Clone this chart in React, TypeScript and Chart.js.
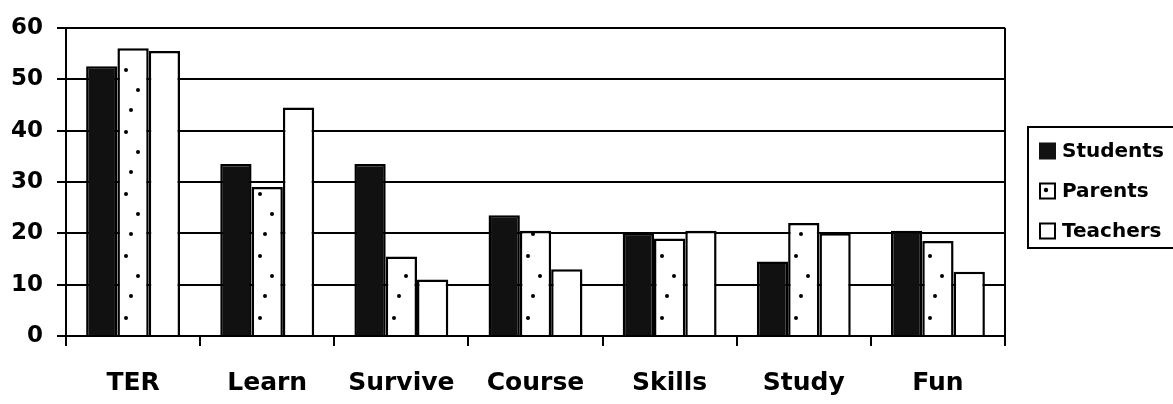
import React, { useEffect, useRef } from "react";
import { Chart, registerables } from "chart.js";

Chart.register(...registerables);

const categories = ["TER", "Learn", "Survive", "Course", "Skills", "Study", "Fun"];
const seriesNames = ["Students", "Parents", "Teachers"];
const students = [52.5, 33.5, 33.5, 23.5, 20, 14.5, 20.5];
const parents = [56, 29, 15.5, 20.5, 19, 22, 18.5];
const teachers = [55.5, 44.5, 11, 13, 20.5, 20, 12.5];
const yMin = 0;
const yMax = 60;
const yStep = 10;

const FONT = "'DejaVu Sans', 'Liberation Sans', Arial, sans-serif";

function makeDotPattern(ctx: CanvasRenderingContext2D): CanvasPattern | string {
  const c = document.createElement("canvas");
  c.width = 134;
  c.height = 62;
  const p = c.getContext("2d");
  if (!p) return "#fff";
  p.fillStyle = "#fff";
  p.fillRect(0, 0, c.width, c.height);
  p.fillStyle = "#000";
  const dotsAt = [
    [126, 8],
    [4, 28],
    [131, 48],
  ];
  dotsAt.forEach(([x, y]) => {
    p.beginPath();
    p.arc(x, y, 2, 0, Math.PI * 2);
    p.fill();
  });
  return ctx.createPattern(c, "repeat") || "#fff";
}

const legendPlugin = {
  id: "boxLegend",
  afterDraw(chart: any) {
    const ctx = chart.ctx as CanvasRenderingContext2D;
    const x0 = 1028;
    const y0 = 127;
    ctx.save();
    ctx.lineWidth = 2;
    ctx.strokeStyle = "#000";
    ctx.fillStyle = "#fff";
    ctx.fillRect(x0, y0, 170, 121);
    ctx.strokeRect(x0, y0, 170, 121);
    const rows = [151, 191, 231];
    chart.data.datasets.forEach((ds: any, i: number) => {
      const cy = rows[i];
      const sx = x0 + 11;
      const sz = 17;
      ctx.lineWidth = 2;
      ctx.strokeStyle = "#000";
      if (i === 0) {
        ctx.fillStyle = "#111";
        ctx.fillRect(sx, cy - sz / 2, sz, sz);
      } else {
        ctx.fillStyle = "#fff";
        ctx.fillRect(sx, cy - sz / 2, sz, sz);
        ctx.strokeRect(sx + 1, cy - sz / 2 + 1, sz - 2, sz - 2);
        if (i === 1) {
          ctx.fillStyle = "#000";
          ctx.beginPath();
          ctx.arc(sx + 7, cy - 1, 2.2, 0, Math.PI * 2);
          ctx.fill();
        }
      }
      ctx.fillStyle = "#000";
      ctx.font = `bold 20px ${FONT}`;
      ctx.textBaseline = "middle";
      ctx.textAlign = "left";
      ctx.fillText(ds.label, x0 + 34, cy + 1);
    });
    ctx.restore();
  },
};

export default function App() {
  const ref = useRef<HTMLCanvasElement | null>(null);

  useEffect(() => {
    const canvas = ref.current;
    if (!canvas) return;
    const ctx = canvas.getContext("2d");
    if (!ctx) return;
    const dots = makeDotPattern(ctx);

    const barStyle = {
      borderColor: "#000",
      borderWidth: 2.5,
      borderSkipped: "bottom" as const,
      categoryPercentage: 0.7,
      barPercentage: 1.0,
    };

    const chart = new Chart(canvas, {
      type: "bar",
      data: {
        labels: categories,
        datasets: [
          { label: seriesNames[0], data: students, backgroundColor: "#111", ...barStyle },
          { label: seriesNames[1], data: parents, backgroundColor: dots as any, ...barStyle },
          { label: seriesNames[2], data: teachers, backgroundColor: "#fff", ...barStyle },
        ],
      },
      options: {
        responsive: false,
        animation: false,
        devicePixelRatio: 1,
        layout: { padding: { left: 0, top: 25, right: 168, bottom: 0 } },
        plugins: {
          legend: { display: false },
          tooltip: { enabled: false },
          title: { display: false },
        },
        scales: {
          x: {
            offset: true,
            grid: {
              offset: true,
              drawOnChartArea: true,
              color: (c: any) => (c.type !== "tick" ? "#000" : "rgba(0,0,0,0)"),
              tickColor: "#000",
              lineWidth: 2,
              tickLength: 10,
            },
            border: { display: true, color: "#000", width: 2 },
            ticks: {
              color: "#000",
              font: { family: FONT, size: 25, weight: "bold" },
              padding: 22,
              maxRotation: 0,
              autoSkip: false,
            },
            afterFit: (scale: any) => {
              scale.height = 68;
            },
          },
          y: {
            min: yMin,
            max: yMax,
            grid: {
              color: "#000",
              lineWidth: 2,
              tickLength: 9,
              tickColor: "#000",
            },
            border: { display: true, color: "#000", width: 2 },
            ticks: {
              stepSize: yStep,
              color: "#000",
              font: { family: FONT, size: 23, weight: "bold" },
              padding: 14,
            },
            afterFit: (scale: any) => {
              scale.width = 66;
            },
          },
        },
      },
      plugins: [legendPlugin],
    });

    return () => {
      chart.destroy();
    };
  }, []);

  return (
    <div style={{ position: "fixed", left: 0, top: 0, width: 1173, height: 404, background: "#fff" }}>
      <canvas ref={ref} width={1173} height={404} style={{ display: "block", width: 1173, height: 404 }} />
    </div>
  );
}
